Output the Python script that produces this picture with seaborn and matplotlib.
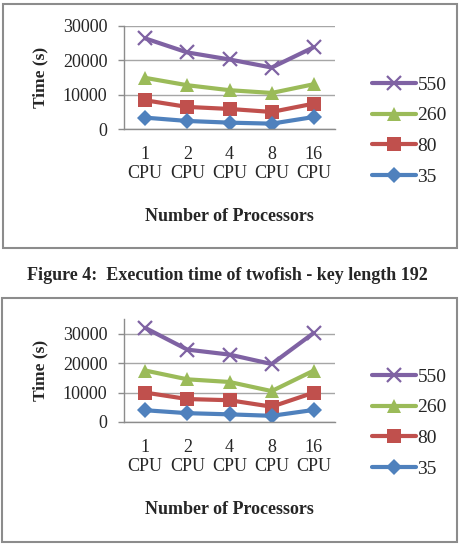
import pandas as pd
import matplotlib
matplotlib.use('Agg')
import matplotlib.pyplot as plt
from matplotlib.lines import Line2D
from matplotlib.patches import Rectangle
import seaborn as sns

# data
cpus = ['1\nCPU', '2\nCPU', '4\nCPU', '8\nCPU', '16\nCPU']
series = ['550', '260', '80', '35']

# upper chart
top_550 = [26400, 22300, 20250, 17900, 23850]
top_260 = [14900, 12750, 11300, 10500, 13050]
top_80 = [8370, 6430, 5840, 4970, 7400]
top_35 = [3310, 2340, 1850, 1560, 3500]

# lower chart
bot_550 = [32000, 24600, 22900, 19700, 30300]
bot_260 = [17500, 14500, 13600, 10500, 17500]
bot_80 = [10000, 7800, 7400, 5200, 10000]
bot_35 = [4000, 3000, 2600, 2100, 4100]

caption = 'Figure 4:  Execution time of twofish - key length 192'

colors = {'550': '#7f62a3', '260': '#9bbb59', '80': '#c0504d', '35': '#4f81bd'}
markers = {'550': 'x', '260': '^', '80': 's', '35': 'D'}
msize = {'550': 10, '260': 10, '80': 10, '35': 8}


def to_long(vals):
    rows = []
    for name, v in zip(series, vals):
        for i, y in enumerate(v):
            rows.append({'cpu': i, 'series': name, 'time': y})
    return pd.DataFrame(rows)


def marker_kw(name):
    if name == '550':
        return dict(marker='x', markersize=msize[name], markeredgewidth=1.6,
                    markeredgecolor=colors[name])
    return dict(marker=markers[name], markersize=msize[name], markeredgewidth=0,
                markerfacecolor=colors[name])


sns.set_theme(style='white')
plt.rcParams['font.family'] = ['Liberation Serif', 'DejaVu Serif']

W, H = 461, 551
fig = plt.figure(figsize=(W / 100, H / 100), dpi=100)


def px(x0, y0, x1, y1):
    # pixel box (top-left origin) -> figure fraction rect
    return [x0 / W, 1 - y1 / H, (x1 - x0) / W, (y1 - y0) / H]


def draw(ax, vals, ymax, legend_y):
    df = to_long(vals)
    for name in series:
        d = df[df['series'] == name]
        sns.lineplot(data=d, x='cpu', y='time', ax=ax, color=colors[name],
                     linewidth=3, legend=False, **marker_kw(name))
    ax.set_xlim(-0.5, 4.5)
    ax.set_ylim(0, ymax)
    ax.set_yticks([0, 10000, 20000, 30000])
    ax.set_xticks(range(5))
    ax.set_xticklabels(cpus, fontsize=13, linespacing=1.15)
    ax.set_xticks([i - 0.5 for i in range(6)], minor=True)
    ax.tick_params(axis='x', which='major', length=0, pad=12)
    ax.tick_params(axis='x', which='minor', length=4, width=1, color='#8c8c8c', direction='out')
    ax.tick_params(axis='y', labelsize=13, length=4, width=1, color='#8c8c8c',
                   direction='out', left=True, pad=8)
    ax.yaxis.grid(True, color='#a6a6a6', linewidth=1)
    ax.set_axisbelow(True)
    for s in ['top', 'right']:
        ax.spines[s].set_visible(False)
    for s in ['left', 'bottom']:
        ax.spines[s].set_color('#8c8c8c')
        ax.spines[s].set_linewidth(1)
    ax.set_xlabel('Number of Processors', fontsize=13, fontweight='bold', labelpad=19)
    ax.set_ylabel('Time (s)', fontsize=12.5, fontweight='bold', labelpad=10)

    handles = [Line2D([], [], color=colors[n], lw=3, **marker_kw(n)) for n in series]
    fig.legend(handles, series, loc='center left',
               bbox_to_anchor=(362 / W, 1 - legend_y / H), frameon=False,
               fontsize=14, handlelength=2.3, handletextpad=0.05,
               labelspacing=0.68, borderpad=0)


ax1 = fig.add_axes(px(124, 26, 335, 129))
draw(ax1, [top_550, top_260, top_80, top_35], 30000, 131)

ax2 = fig.add_axes(px(124, 319, 335, 422))
draw(ax2, [bot_550, bot_260, bot_80, bot_35], 35000, 423)

# boxes around the charts
for (x0, y0, x1, y1) in [(3, 4, 457, 248), (2, 298, 457, 542)]:
    r = px(x0, y0, x1, y1)
    fig.add_artist(Rectangle((r[0], r[1]), r[2], r[3], transform=fig.transFigure,
                             fill=False, edgecolor='#8c8c8c', linewidth=1.5))

fig.text(227 / W, 1 - 276 / H, caption, ha='center', va='center',
         fontsize=13, fontweight='bold')

fig.savefig('out.png', dpi=100, facecolor='white')
